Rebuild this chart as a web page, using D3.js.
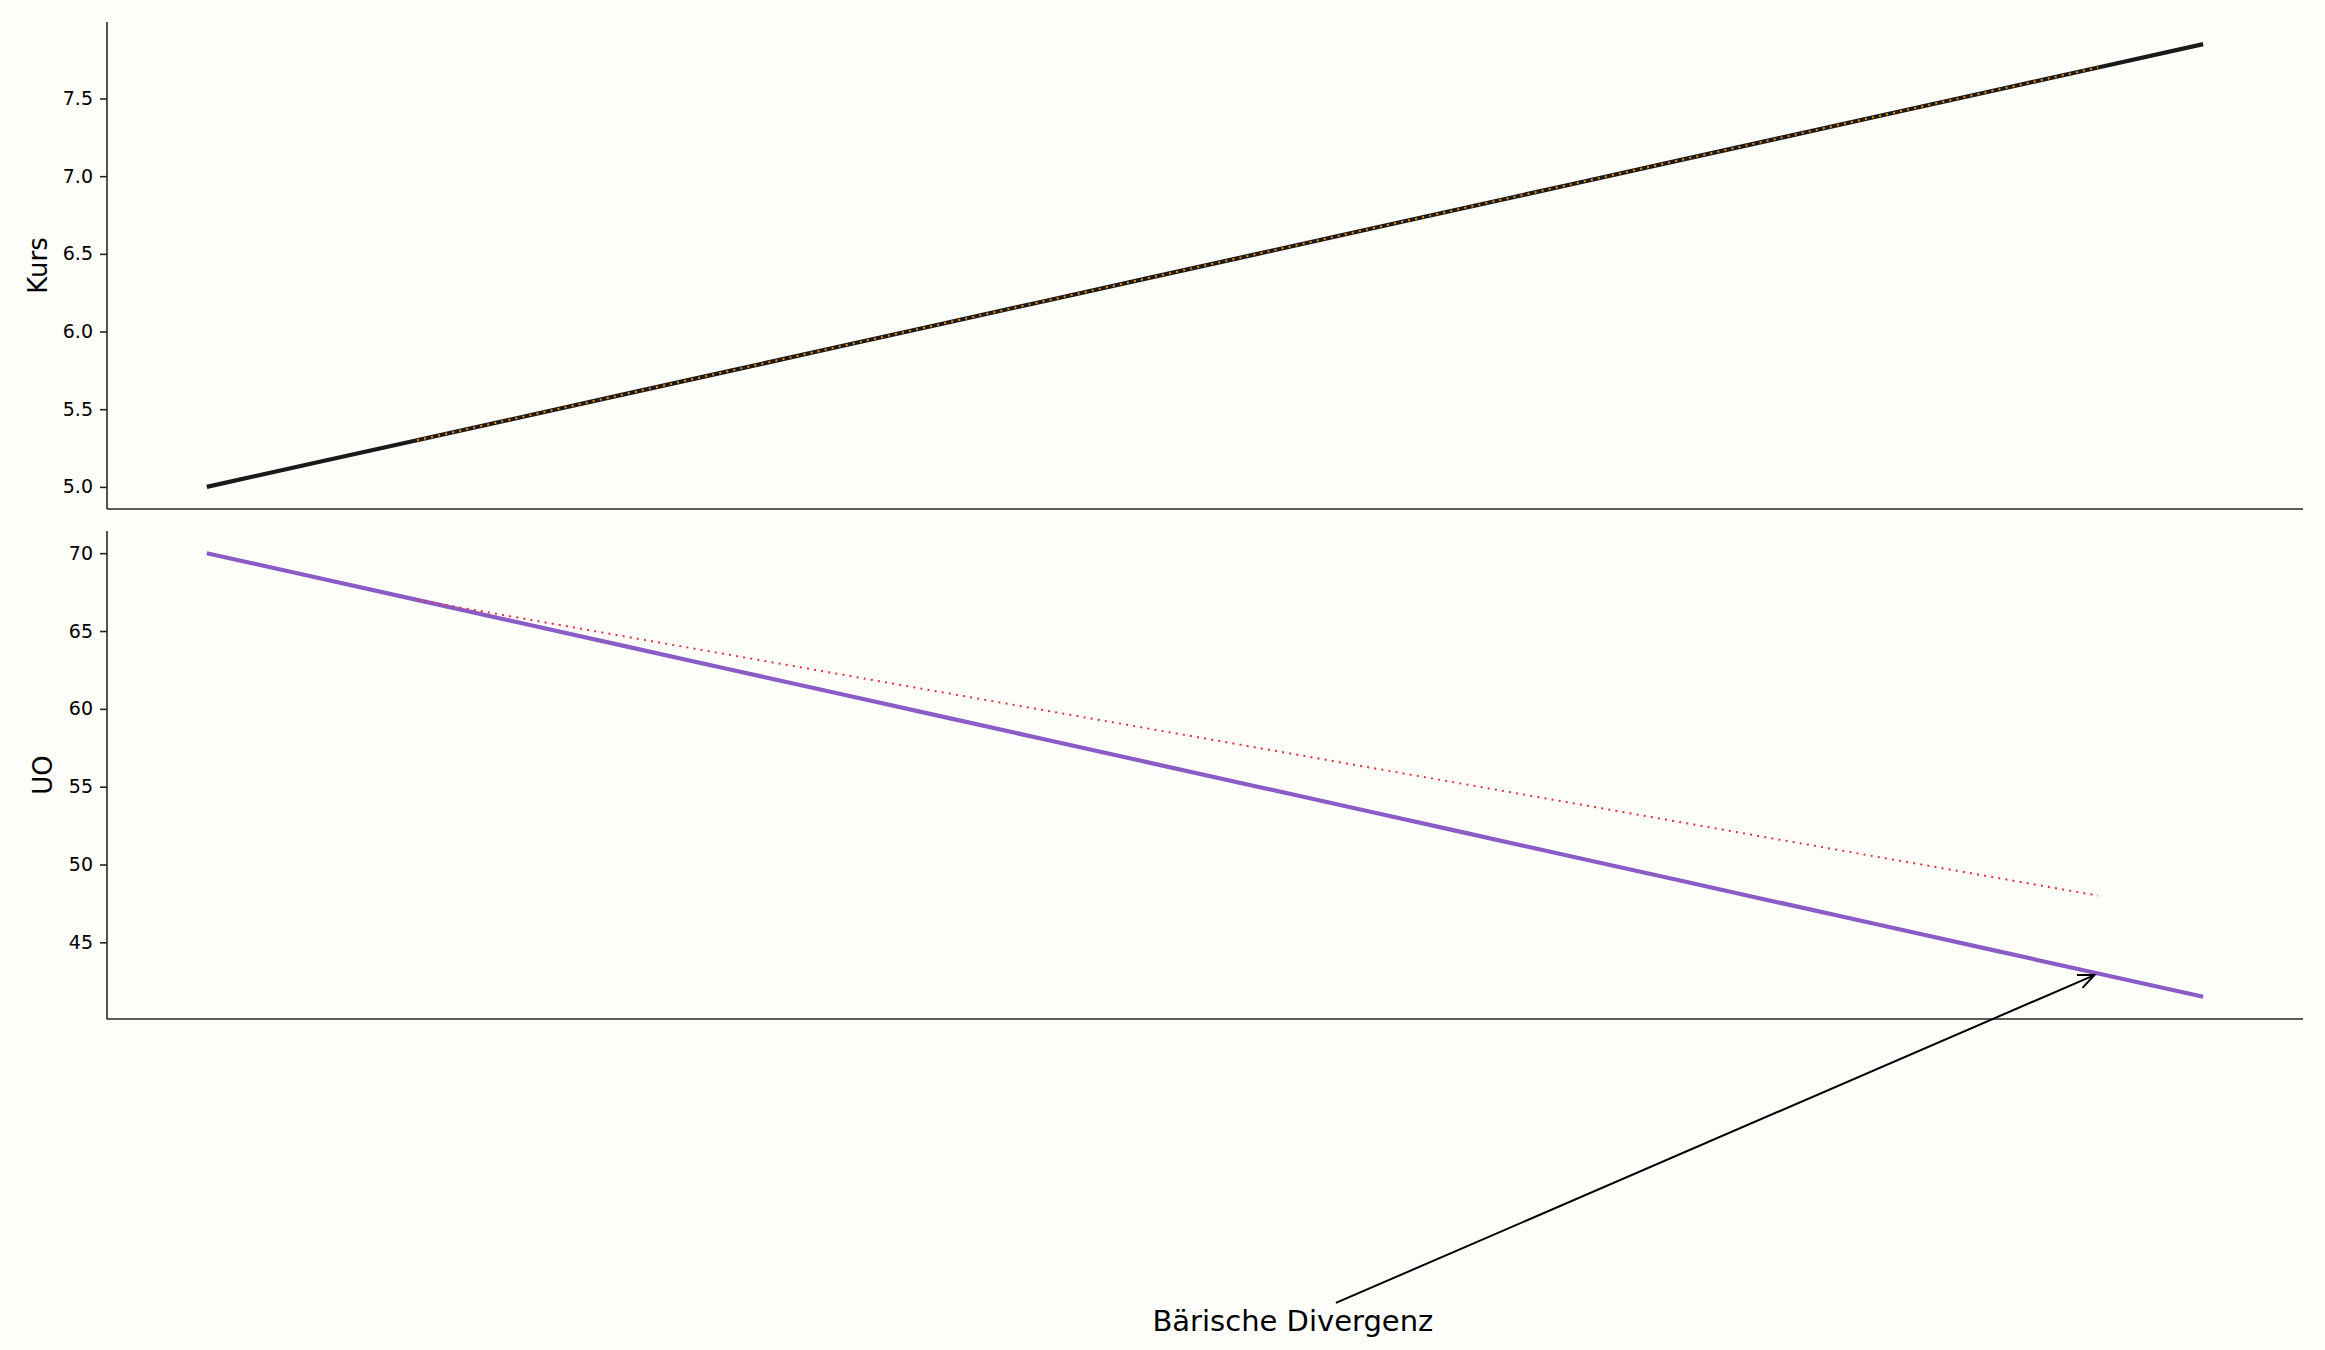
<!DOCTYPE html>
<html>
<head>
<meta charset="utf-8">
<script src="https://cdn.jsdelivr.net/npm/d3@7"></script>
<style>
  body { margin: 0; background: #fdfdf9; }
  svg { display: block; font-family: "DejaVu Sans", sans-serif; }
</style>
</head>
<body>
<div id="container"></div>
<script>
// data
var periods = [0, 1, 2, 3, 4, 5, 6, 7, 8, 9, 10, 11, 12, 13, 14, 15, 16, 17, 18, 19];
var kurs = [5.00, 5.15, 5.30, 5.45, 5.60, 5.75, 5.90, 6.05, 6.20, 6.35,
            6.50, 6.65, 6.80, 6.95, 7.10, 7.25, 7.40, 7.55, 7.70, 7.85];
var uo = [70, 68.5, 67, 65.5, 64, 62.5, 61, 59.5, 58, 56.5,
          55, 53.5, 52, 50.5, 49, 47.5, 46, 44.5, 43, 41.5];
var trendX = [2, 18];
var kursTrend = [5.3, 7.7];
var uoTrend = [67, 48];
var kursTicks = [5.0, 5.5, 6.0, 6.5, 7.0, 7.5];
var uoTicks = [45, 50, 55, 60, 65, 70];
var annText = "Bärische Divergenz";
var annPoint = [18, 43];
var annTextPos = [9, 20];

var W = 2325, H = 1350;
var left = 107, right = 2303;
var top1 = 22, bot1 = 509;
var top2 = 531, bot2 = 1019;

var svg = d3.select("#container")
  .append("svg")
    .attr("width", W)
    .attr("height", H);

svg.append("rect").attr("width", W).attr("height", H).attr("fill", "#fdfdf9");

// x scale with matplotlib-like 5% margins
var xr = d3.extent(periods), xm = (xr[1] - xr[0]) * 0.05;
var x = d3.scaleLinear()
  .domain([xr[0] - xm, xr[1] + xm])
  .range([left, right]);

function padded(vals) {
  var e = d3.extent(vals), m = (e[1] - e[0]) * 0.05;
  return [e[0] - m, e[1] + m];
}

var y1 = d3.scaleLinear().domain(padded(kurs)).range([bot1, top1]);
var y2 = d3.scaleLinear().domain(padded(uo)).range([bot2, top2]);

function drawAxes(y, ticks, fmt, yTop, yBot, label, labelX) {
  var g = svg.append("g");
  var ax = g.append("g")
    .attr("transform", "translate(" + left + ",0)")
    .call(d3.axisLeft(y).tickValues(ticks).tickFormat(fmt).tickSize(7).tickPadding(7));
  ax.select(".domain").remove();
  ax.selectAll(".tick line").attr("stroke", "#262626").attr("stroke-width", 1.6);
  ax.selectAll(".tick text").attr("font-size", 19).attr("fill", "#000")
    .attr("font-family", "DejaVu Sans, sans-serif");
  // spines
  g.append("line").attr("x1", left).attr("x2", left).attr("y1", yTop).attr("y2", yBot)
    .attr("stroke", "#262626").attr("stroke-width", 1.6);
  g.append("line").attr("x1", left).attr("x2", right).attr("y1", yBot).attr("y2", yBot)
    .attr("stroke", "#262626").attr("stroke-width", 1.6);
  g.append("text")
    .attr("transform", "translate(" + labelX + "," + ((yTop + yBot) / 2) + ") rotate(-90)")
    .attr("text-anchor", "middle")
    .attr("font-size", 26)
    .attr("fill", "#000")
    .text(label);
}

drawAxes(y1, kursTicks, d3.format(".1f"), top1, bot1, "Kurs", 47);
drawAxes(y2, uoTicks, d3.format("d"), top2, bot2, "UO", 52);

function line(y) {
  return d3.line().x(function (d) { return x(d[0]); }).y(function (d) { return y(d[1]); });
}

// price
svg.append("path")
  .datum(d3.zip(periods, kurs))
  .attr("d", line(y1))
  .attr("fill", "none")
  .attr("stroke", "#1a1a1a")
  .attr("stroke-width", 4.2);

svg.append("path")
  .datum(d3.zip(trendX, kursTrend))
  .attr("d", line(y1))
  .attr("fill", "none")
  .attr("stroke", "#ff8c00")
  .attr("stroke-width", 2)
  .attr("stroke-dasharray", "2,5.2");

// oscillator
svg.append("path")
  .datum(d3.zip(periods, uo))
  .attr("d", line(y2))
  .attr("fill", "none")
  .attr("stroke", "#8a5cc6")
  .attr("stroke-width", 4.2);

svg.append("path")
  .datum(d3.zip(trendX, uoTrend))
  .attr("d", line(y2))
  .attr("fill", "none")
  .attr("stroke", "#e0303f")
  .attr("stroke-width", 2)
  .attr("stroke-dasharray", "2,5.2");

// annotation
var ann = svg.append("text")
  .attr("x", x(annTextPos[0]))
  .attr("y", y2(annTextPos[1]))
  .attr("font-size", 29)
  .attr("fill", "#000")
  .text(annText);

var bb = ann.node().getBBox();
var cx = bb.x + bb.width / 2, cy = bb.y + bb.height / 2;
var px = x(annPoint[0]), py = y2(annPoint[1]);
var dx = px - cx, dy = py - cy, len = Math.sqrt(dx * dx + dy * dy);
var ux = dx / len, uy = dy / len;
// clip at the text box edge
var tx = Math.abs(ux) > 1e-9 ? (bb.width / 2) / Math.abs(ux) : Infinity;
var ty = Math.abs(uy) > 1e-9 ? (bb.height / 2) / Math.abs(uy) : Infinity;
var t0 = Math.min(tx, ty) + 4;
var sx = cx + ux * t0, sy = cy + uy * t0;
var ex = px - ux * 4, ey = py - uy * 4;

svg.append("line")
  .attr("x1", sx).attr("y1", sy).attr("x2", ex).attr("y2", ey)
  .attr("stroke", "#000").attr("stroke-width", 2);

// open arrow head
var hl = 16, hw = 7;
var bx = ex - ux * hl, by = ey - uy * hl;
svg.append("path")
  .attr("d", "M" + (bx - uy * hw) + "," + (by + ux * hw) +
             "L" + ex + "," + ey +
             "L" + (bx + uy * hw) + "," + (by - ux * hw))
  .attr("fill", "none")
  .attr("stroke", "#000")
  .attr("stroke-width", 2);
</script>
</body>
</html>
